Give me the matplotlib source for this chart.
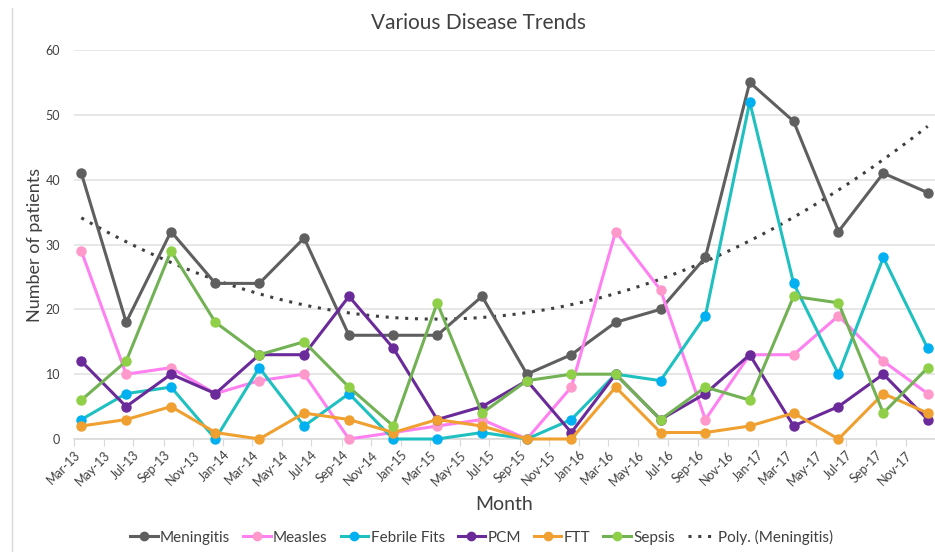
import numpy as np
import pandas as pd
import matplotlib
matplotlib.use("Agg")
import matplotlib.pyplot as plt
import matplotlib.dates as mdates
from matplotlib.lines import Line2D

plt.rcParams["font.family"] = ["Lato", "DejaVu Sans"]

# quarterly observations (plotted mid-month)
dates = pd.to_datetime([
    "2013-03-16", "2013-06-16", "2013-09-16", "2013-12-16",
    "2014-03-16", "2014-06-16", "2014-09-16", "2014-12-16",
    "2015-03-16", "2015-06-16", "2015-09-16", "2015-12-16",
    "2016-03-16", "2016-06-16", "2016-09-16", "2016-12-16",
    "2017-03-16", "2017-06-16", "2017-09-16", "2017-12-16",
])

meningitis = [41, 18, 32, 24, 24, 31, 16, 16, 16, 22, 10, 13, 18, 20, 28, 55, 49, 32, 41, 38]
measles = [29, 10, 11, 7, 9, 10, 0, 1, 2, 3, 0, 8, 32, 23, 3, 13, 13, 19, 12, 7]
febrile_fits = [3, 7, 8, 0, 11, 2, 7, 0, 0, 1, 0, 3, 10, 9, 19, 52, 24, 10, 28, 14]
pcm = [12, 5, 10, 7, 13, 13, 22, 14, 3, 5, 9, 1, 10, 3, 7, 13, 2, 5, 10, 3]
ftt = [2, 3, 5, 1, 0, 4, 3, 1, 3, 2, 0, 0, 8, 1, 1, 2, 4, 0, 7, 4]
sepsis = [6, 12, 29, 18, 13, 15, 8, 2, 21, 4, 9, 10, 10, 3, 8, 6, 22, 21, 4, 11]

# (name, values, line colour, marker colour)
series = [
    ("Meningitis", meningitis, "#5f5f5f", "#5f5f5f"),
    ("Measles", measles, "#ff80f0", "#ff99cc"),
    ("Febrile Fits", febrile_fits, "#1fc0c0", "#00b0f0"),
    ("PCM", pcm, "#6a2a9a", "#6a2a9a"),
    ("FTT", ftt, "#f0a030", "#f0a030"),
    ("Sepsis", sepsis, "#72b255", "#8fd048"),
]

fig = plt.figure(figsize=(9.35, 5.52), dpi=100)
ax = fig.add_axes([74 / 935, 113 / 552, 861 / 935, 389 / 552])

handles = []
for name, vals, lc, mc in series:
    ax.plot(dates, vals, color=lc, linewidth=2.2, marker="o", markersize=6.5,
            markerfacecolor=mc, markeredgecolor=mc, clip_on=False, zorder=3)
    handles.append(Line2D([], [], color=lc, linewidth=2.2, marker="o",
                          markersize=6, markerfacecolor=mc, markeredgecolor=mc))

# 2nd order polynomial trendline for Meningitis
xn = mdates.date2num(dates)
coef = np.polyfit(xn, meningitis, 2)
xs = np.linspace(xn[0], xn[-1], 200)
ax.plot(xs, np.polyval(coef, xs), linestyle=(0, (1, 2.2)), color="#404040",
        linewidth=2.2, zorder=2)
handles.append(Line2D([], [], linestyle=(0, (1, 2.2)), color="#404040", linewidth=2.2))

ax.set_xlim(mdates.date2num(pd.Timestamp("2013-03-01")),
            mdates.date2num(pd.Timestamp("2017-12-31")))
ax.set_ylim(0, 60)
ax.set_yticks(range(0, 61, 10))
ax.xaxis.set_major_locator(mdates.MonthLocator(bymonth=[1, 3, 5, 7, 9, 11]))
ax.xaxis.set_major_formatter(mdates.DateFormatter("%b-%y"))
plt.setp(ax.get_xticklabels(), rotation=45, ha="right", rotation_mode="anchor")

ax.grid(axis="y", color="#e3e3e3", linewidth=1.2)
ax.set_axisbelow(True)
for s in ["top", "right", "left"]:
    ax.spines[s].set_visible(False)
ax.spines["bottom"].set_color("#d9d9d9")
ax.spines["bottom"].set_linewidth(1.2)
ax.tick_params(axis="x", colors="#d9d9d9", length=5, labelcolor="#404040",
               labelsize=9, pad=2)
ax.tick_params(axis="y", length=0, labelcolor="#404040", labelsize=9, pad=10)

ax.set_xlabel("Month", fontsize=14, color="#404040", labelpad=6)
ax.set_ylabel("Number of patients", fontsize=13, color="#404040", labelpad=2)
fig.text(0.512, 0.958, "Various Disease Trends", ha="center", va="center",
         fontsize=15, color="#404040")

names = [s[0] for s in series] + ["Poly. (Meningitis)"]
fig.legend(handles, names, loc="center", bbox_to_anchor=(0.515, 0.027), ncol=7,
           frameon=False, fontsize=11, handlelength=1.8, handletextpad=0.15,
           columnspacing=0.85, labelcolor="#404040")

fig.add_artist(Line2D([12 / 935, 12 / 935], [0, 1 - 8 / 552], color="#d9d9d9",
                      linewidth=1, transform=fig.transFigure))

fig.savefig("out.png", dpi=100)
